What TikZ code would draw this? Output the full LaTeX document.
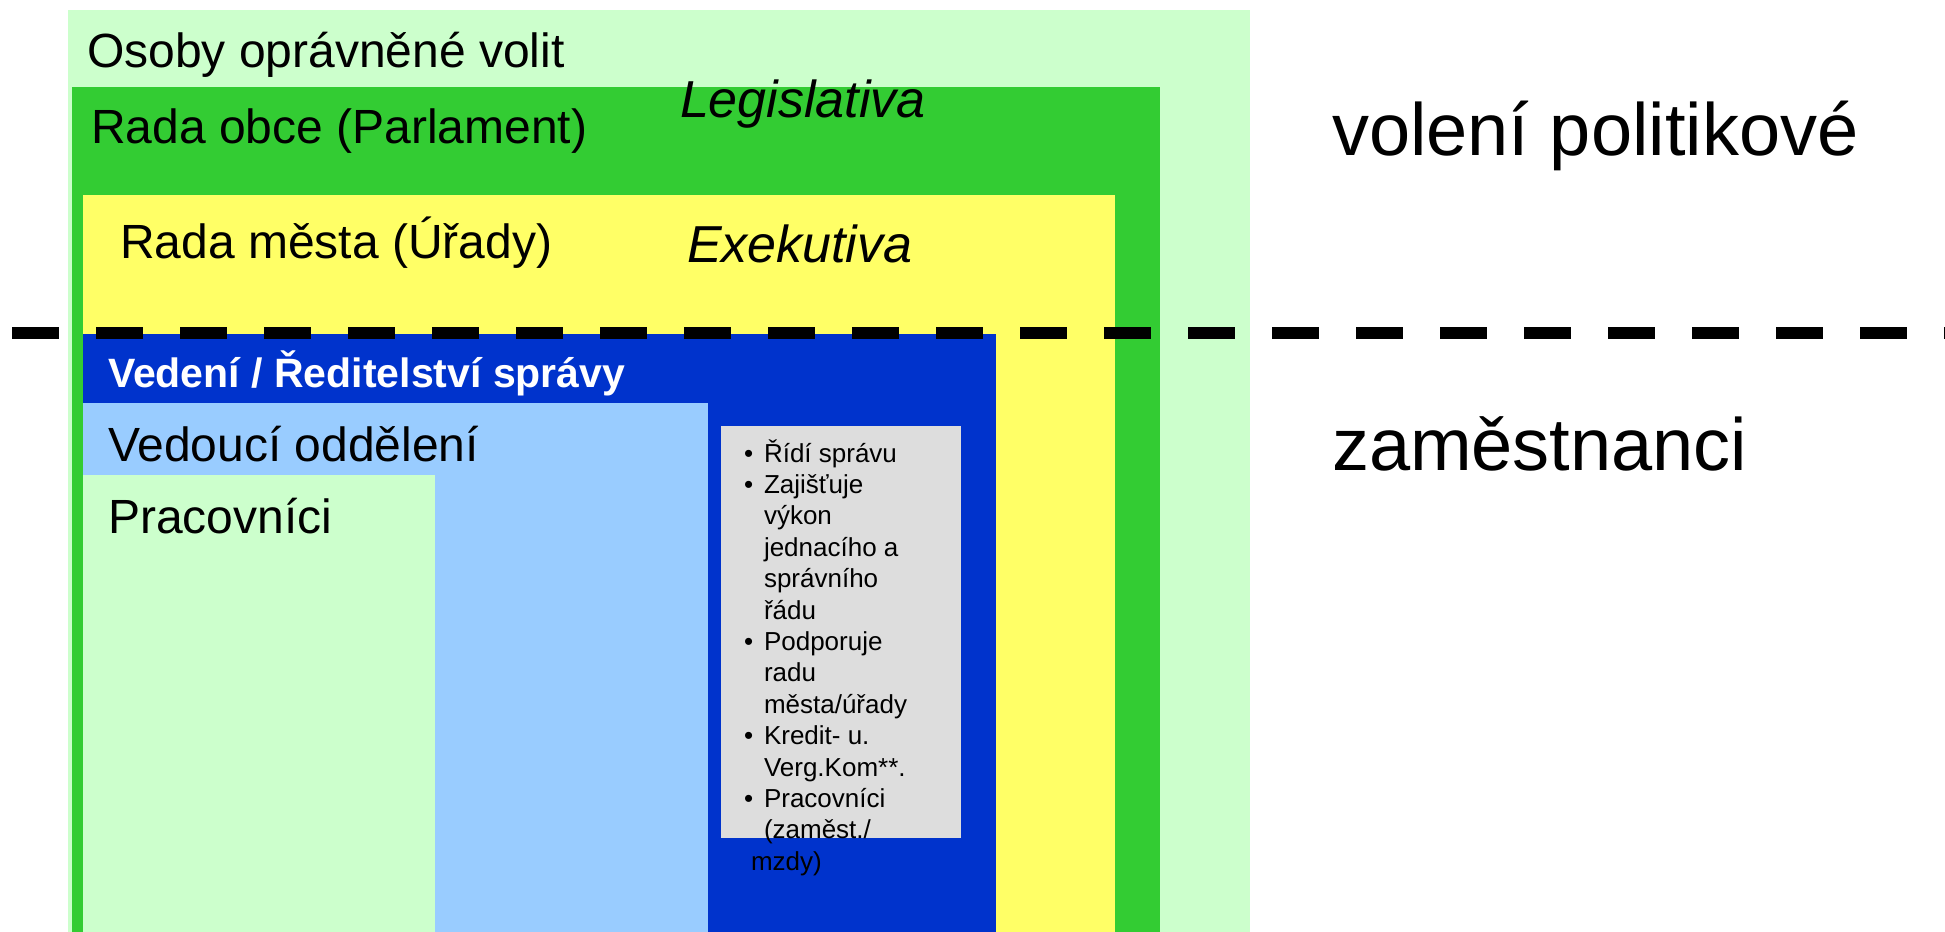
\documentclass[tikz,border=0pt]{standalone}
\usepackage{fontspec}
\setmainfont{Liberation Sans}
\definecolor{lgreen}{HTML}{CCFFCC}
\definecolor{mgreen}{HTML}{33CC33}
\definecolor{myellow}{HTML}{FFFF66}
\definecolor{mblue}{HTML}{0033CC}
\definecolor{lblue}{HTML}{99CCFF}
\definecolor{mgrey}{HTML}{DDDDDD}
\tikzset{
  lbl/.style={anchor=base west, inner sep=0pt, outer sep=0pt},
  big/.style={lbl, font=\fontsize{24pt}{28pt}\selectfont},
  bigit/.style={lbl, font=\fontsize{26pt}{30pt}\selectfont\itshape},
  bold/.style={lbl, text=white, font=\fontsize{20.5pt}{24pt}\selectfont\bfseries},
  huge/.style={lbl, font=\fontsize{37pt}{42pt}\selectfont},
  small/.style={lbl, font=\fontsize{13pt}{15pt}\selectfont},
  divider/.style={line width=6pt, dash pattern=on 23.5pt off 18.5pt}
}
\begin{document}
\begin{tikzpicture}[x=0.5pt,y=-0.5pt]
\useasboundingbox (0,0) rectangle (1945,932);
% nested areas
\fill[lgreen]  (68,10)   rectangle (1250,932);
\fill[mgreen]  (72,87)   rectangle (1160,932);
\fill[myellow] (83,195)  rectangle (1115,932);
\fill[mblue]   (83,334)  rectangle (996,932);
\fill[lblue]   (83,403)  rectangle (708,932);
\fill[lgreen]  (83,475)  rectangle (435,932);
\fill[mgrey]   (721,426) rectangle (961,838);
% divider
\coordinate (dl) at (12,333);
\coordinate (dr) at (1945,333);
\draw[divider] (dl) -- (dr);
% labels
\node[big]   (osoby) at (87,67)   {Osoby oprávněné volit};
\node[big]   (obce)  at (91,143)  {Rada obce (Parlament)};
\node[bigit] (leg)   at (680,117) {Legislativa};
\node[big]   (mesta) at (120,258) {Rada města (Úřady)};
\node[bigit] (exe)   at (687,262) {Exekutiva};
\node[bold]  (ved)   at (108,387) {Vedení / Ředitelství správy};
\node[big]   (odd)   at (108,461) {Vedoucí oddělení};
\node[big]   (prac)  at (108,533) {Pracovníci};
\node[huge]  (pol)   at (1332,155) {volení politikové};
\node[huge]  (zam)   at (1332,470) {zaměstnanci};
% bullet list
\foreach \i/\t in {0/{Řídí správu}, 1/{Zajišťuje}, 2/{výkon}, 3/{jednacího a}, 4/{správního}, 5/{řádu}, 6/{Podporuje}, 7/{radu}, 8/{města/úřady}, 9/{Kredit- u.}, 10/{Verg.Kom**.}, 11/{Pracovníci}, 12/{(zaměst./}}
  \node[small] (li\i) at (764,462+31.4*\i) {\t};
\foreach \i in {0,1,6,9,11}
  \node[small] (bu\i) at (744,462+31.4*\i) {•};
\node[small] (li13) at (751,870) {mzdy)};
\end{tikzpicture}
\end{document}
